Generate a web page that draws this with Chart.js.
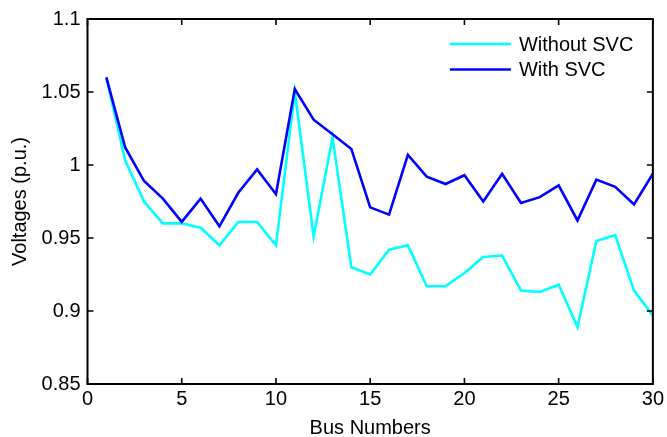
<!DOCTYPE html>
<html>
<head>
<meta charset="utf-8">
<script src="https://cdn.jsdelivr.net/npm/chart.js@4/dist/chart.umd.min.js"></script>
<style>
  html, body { margin: 0; padding: 0; background: #fff; }
  #wrap { width: 667px; height: 437px; position: relative; }
</style>
</head>
<body>
<div id="wrap"><canvas id="c" width="667" height="437"></canvas></div>
<script>
const busNumbers = [1,2,3,4,5,6,7,8,9,10,11,12,13,14,15,16,17,18,19,20,21,22,23,24,25,26,27,28,29,30];
const withoutSVC = [1.060,1.003,0.975,0.960,0.960,0.957,0.945,0.961,0.961,0.945,1.050,0.951,1.019,0.930,0.925,0.942,0.945,0.917,0.917,0.926,0.937,0.938,0.914,0.913,0.918,0.889,0.948,0.952,0.914,0.897];
const withSVC = [1.060,1.012,0.989,0.977,0.961,0.977,0.958,0.981,0.997,0.980,1.052,1.031,1.021,1.011,0.971,0.966,1.007,0.992,0.987,0.993,0.975,0.994,0.974,0.978,0.986,0.962,0.990,0.985,0.973,0.994];
const seriesLabels = ['Without SVC', 'With SVC'];
const seriesColors = ['#00FFFF', '#0000FF'];
const xTicks = [0,5,10,15,20,25,30];
const yTicks = [0.85,0.9,0.95,1,1.05,1.1];

const FONT = "'Liberation Sans', Arial, sans-serif";

const boxPlugin = {
  id: 'matlabBox',
  afterDraw(chart) {
    const {ctx, chartArea: a, scales} = chart;
    ctx.save();
    ctx.strokeStyle = '#000';
    ctx.lineWidth = 2;
    ctx.strokeRect(a.left, a.top, a.right - a.left, a.bottom - a.top);
    ctx.lineWidth = 1.6;
    const tl = 6;
    ctx.beginPath();
    xTicks.forEach(v => {
      const px = scales.x.getPixelForValue(v);
      ctx.moveTo(px, a.bottom); ctx.lineTo(px, a.bottom - tl);
      ctx.moveTo(px, a.top); ctx.lineTo(px, a.top + tl);
    });
    yTicks.forEach(v => {
      const py = scales.y.getPixelForValue(v);
      ctx.moveTo(a.left, py); ctx.lineTo(a.left + tl, py);
      ctx.moveTo(a.right, py); ctx.lineTo(a.right - tl, py);
    });
    ctx.stroke();
    // legend
    const x0 = a.right - 203, x1 = a.right - 142, tx = a.right - 134;
    const rows = [a.top + 25, a.top + 50.5];
    ctx.font = '20px ' + FONT;
    ctx.textBaseline = 'middle';
    ctx.textAlign = 'left';
    chart.data.datasets.forEach((ds, i) => {
      ctx.strokeStyle = ds.borderColor;
      ctx.lineWidth = 2.6;
      ctx.beginPath();
      ctx.moveTo(x0, rows[i]); ctx.lineTo(x1, rows[i]);
      ctx.stroke();
      ctx.fillStyle = '#000';
      ctx.fillText(ds.label, tx, rows[i] + 1);
    });
    ctx.restore();
  }
};

new Chart(document.getElementById('c'), {
  type: 'line',
  data: {
    datasets: [
      { label: seriesLabels[0], data: busNumbers.map((b, i) => ({x: b, y: withoutSVC[i]})), borderColor: seriesColors[0], backgroundColor: seriesColors[0], borderWidth: 2.6, pointRadius: 0, tension: 0, order: 1 },
      { label: seriesLabels[1], data: busNumbers.map((b, i) => ({x: b, y: withSVC[i]})), borderColor: seriesColors[1], backgroundColor: seriesColors[1], borderWidth: 2.6, pointRadius: 0, tension: 0, order: 0 }
    ]
  },
  options: {
    responsive: false,
    animation: false,
    layout: { padding: { left: 0, right: 11, top: 19, bottom: 0 } },
    plugins: { legend: { display: false }, tooltip: { enabled: false } },
    scales: {
      x: {
        type: 'linear', min: 0, max: 30,
        afterBuildTicks: s => { s.ticks = xTicks.map(v => ({value: v})); },
        afterFit: s => { s.height = 53; },
        grid: { display: true, drawOnChartArea: false, drawTicks: false },
        border: { display: false },
        ticks: { color: '#000', font: { family: FONT, size: 20 }, padding: 3, maxRotation: 0, autoSkip: false },
        title: { display: true, text: 'Bus Numbers', color: '#000', font: { family: FONT, size: 20 }, padding: { top: 0, bottom: -3 } }
      },
      y: {
        type: 'linear', min: 0.85, max: 1.1,
        afterBuildTicks: s => { s.ticks = yTicks.map(v => ({value: v})); },
        afterFit: s => { s.width = 87.5; },
        grid: { display: true, drawOnChartArea: false, drawTicks: false },
        border: { display: false },
        ticks: { color: '#000', font: { family: FONT, size: 20 }, padding: 7, autoSkip: false, callback: v => String(Number(v.toFixed(2))) },
        title: { display: true, text: 'Voltages (p.u.)', color: '#000', font: { family: FONT, size: 20 }, padding: { top: 8, bottom: 0 } }
      }
    }
  },
  plugins: [boxPlugin]
});
</script>
</body>
</html>
